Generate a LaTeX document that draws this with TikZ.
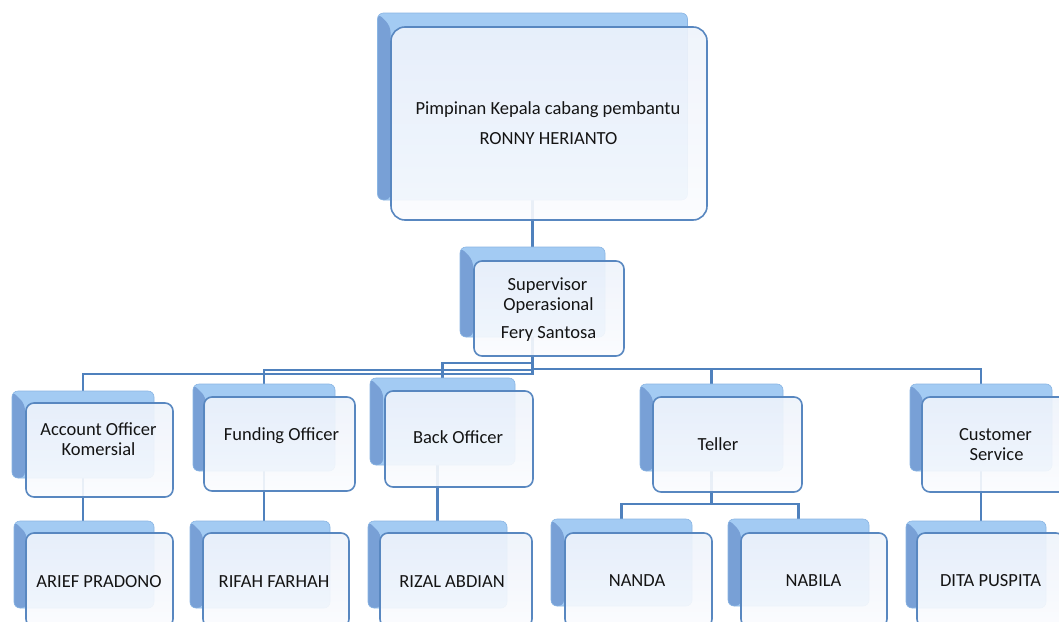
\documentclass[tikz,border=0pt]{standalone}
\usepackage{fontspec}
\setmainfont{Carlito}
\usetikzlibrary{backgrounds}
\definecolor{lineblue}{HTML}{4F81BD}
\definecolor{shlight}{HTML}{A3CBF3}
\definecolor{shdark}{HTML}{78A0D6}
\definecolor{frtop}{HTML}{EEF3FB}
\definecolor{frbot}{HTML}{FBFCFE}
\definecolor{txt}{HTML}{141414}
\tikzset{
  shadowbox/.style={rectangle, rounded corners=6pt, inner sep=0pt, fill=shlight,
    draw=shlight!70!lineblue, line width=0.6pt,
    path picture={\fill[shdark] (path picture bounding box.north west) -- ++(13pt,-13pt)
      -- ([xshift=13pt]path picture bounding box.south west)
      -- (path picture bounding box.south west) -- cycle;}},
  frontbox/.style={rectangle, rounded corners=8pt, inner sep=0pt, draw=lineblue!95!white,
    line width=1.6pt, top color=frtop, bottom color=frbot, fill opacity=0.9},
  lbl/.style={anchor=base, inner sep=0pt, font=\fontsize{18.5}{20}\selectfont, text=txt},
  conn/.style={draw=lineblue, line width=2.2pt},
  lvl2s/.style={shadowbox, minimum width=142pt, minimum height=87pt},
  lvl2f/.style={frontbox, minimum width=148pt, minimum height=95pt}
}
\begin{document}
\begin{tikzpicture}[x=1pt,y=-1pt]
\useasboundingbox (0,0) rectangle (1059,621);
\clip (0,0) rectangle (1059,621);

% top
\node[shadowbox, minimum width=310pt, minimum height=187pt] (s-top) at (532.5,106.5) {};
\node[frontbox, rounded corners=14pt, minimum width=316pt, minimum height=193pt] (top) at (549,123.5) {};
\node[lbl] (t-top1) at (548,114) {Pimpinan Kepala cabang pembantu};
\node[lbl] (t-top2) at (548.5,144) {RONNY HERIANTO};

% supervisor
\node[shadowbox, minimum width=145pt, minimum height=90pt] (s-sup) at (532.5,292) {};
\node[frontbox, minimum width=150pt, minimum height=95pt] (sup) at (549,308.5) {};
\node[lbl] (t-sup1) at (547.5,290) {Supervisor};
\node[lbl] (t-sup2) at (548.5,310) {Operasional};
\node[lbl] (t-sup3) at (548.5,338) {Fery Santosa};

% level 2
\node[lvl2s] (s-ao) at (83,434.5) {};
\node[lvl2f, minimum width=147pt, minimum height=94pt] (ao) at (99.5,450) {};
\node[lbl] (t-ao1) at (98.5,435) {Account Officer};
\node[lbl] (t-ao2) at (98.5,455) {Komersial};

\node[lvl2s] (s-fund) at (264,427.5) {};
\node[lvl2f, minimum width=151pt, minimum height=94pt] (fund) at (279.5,444) {};
\node[lbl] (t-fund) at (281.5,440) {Funding Officer};

\node[lvl2s, minimum width=145pt] (s-back) at (442.5,421.5) {};
\node[lvl2f, minimum width=148pt, minimum height=96pt] (back) at (459,439) {};
\node[lbl] (t-back) at (458,443) {Back Officer};

\node[lvl2s, minimum width=143pt] (s-teller) at (711.5,427.5) {};
\node[lvl2f, minimum width=149pt] (teller) at (727.5,444.5) {};
\node[lbl] (t-teller) at (718,450) {Teller};

\node[lvl2s] (s-cs) at (981,427.5) {};
\node[lvl2f, minimum width=149pt] (cs) at (996.5,444.5) {};
\node[lbl] (t-cs1) at (995.5,440) {Customer};
\node[lbl] (t-cs2) at (996.5,460) {Service};

% level 3
\node[lvl2s, minimum width=140pt] (s-arief) at (84,564.5) {};
\node[lvl2f, minimum width=147pt, minimum height=94pt] (arief) at (99.5,580) {};
\node[lbl] (t-arief) at (99,587) {ARIEF PRADONO};

\node[lvl2s, minimum width=140pt] (s-rifah) at (260,564.5) {};
\node[lvl2f, minimum width=146pt, minimum height=94pt] (rifah) at (276,580) {};
\node[lbl] (t-rifah) at (274,587) {RIFAH FARHAH};

\node[lvl2s, minimum width=139pt] (s-rizal) at (437.5,564.5) {};
\node[lvl2f, minimum width=152pt, minimum height=94pt] (rizal) at (456,580) {};
\node[lbl] (t-rizal) at (452,587) {RIZAL ABDIAN};

\node[lvl2s, minimum width=141pt] (s-nanda) at (621.5,562.5) {};
\node[lvl2f, minimum width=147pt, minimum height=94pt] (nanda) at (638.5,580) {};
\node[lbl] (t-nanda) at (637,586) {NANDA};

\node[lvl2s, minimum width=141pt] (s-nabila) at (798.5,562.5) {};
\node[lvl2f, minimum width=146pt, minimum height=94pt] (nabila) at (814,580) {};
\node[lbl] (t-nabila) at (813.5,586) {NABILA};

\node[lvl2s, minimum width=140pt] (s-dita) at (976,564.5) {};
\node[lvl2f, minimum width=147pt, minimum height=94pt] (dita) at (990.5,580) {};
\node[lbl] (t-dita) at (990.5,586) {DITA PUSPITA};

\coordinate (yA) at (0,374);
\coordinate (yB) at (0,370);
\coordinate (yC) at (0,363);
\coordinate (yD) at (0,369);
\coordinate (yE) at (0,504);

\begin{scope}[on background layer]
\fill[white] (0,0) rectangle (1059,621);
\draw[conn] (s-top.south) -- (s-sup.north);
\draw[conn] (s-sup.south) -- (s-sup.south |- yA) -| (s-ao.north);
\draw[conn] (s-sup.south |- yB) -| (s-fund.north);
\draw[conn] (s-sup.south |- yC) -| (s-back.north);
\draw[conn] (s-sup.south |- yD) -| (s-teller.north);
\draw[conn] (s-sup.south |- yD) -| (s-cs.north);
\draw[conn] (s-ao.south) -- (s-ao.south |- s-arief.north);
\draw[conn] (s-fund.south) -- (s-fund.south |- s-rifah.north);
\draw[conn] (s-rizal.north |- s-back.south) -- (s-rizal.north);
\draw[conn] (s-teller.south) -- (s-teller.south |- yE) -| (s-nanda.north);
\draw[conn] (s-teller.south |- yE) -| (s-nabila.north);
\draw[conn] (s-cs.south) -- (s-cs.south |- s-dita.north);
\end{scope}
\end{tikzpicture}
\end{document}
